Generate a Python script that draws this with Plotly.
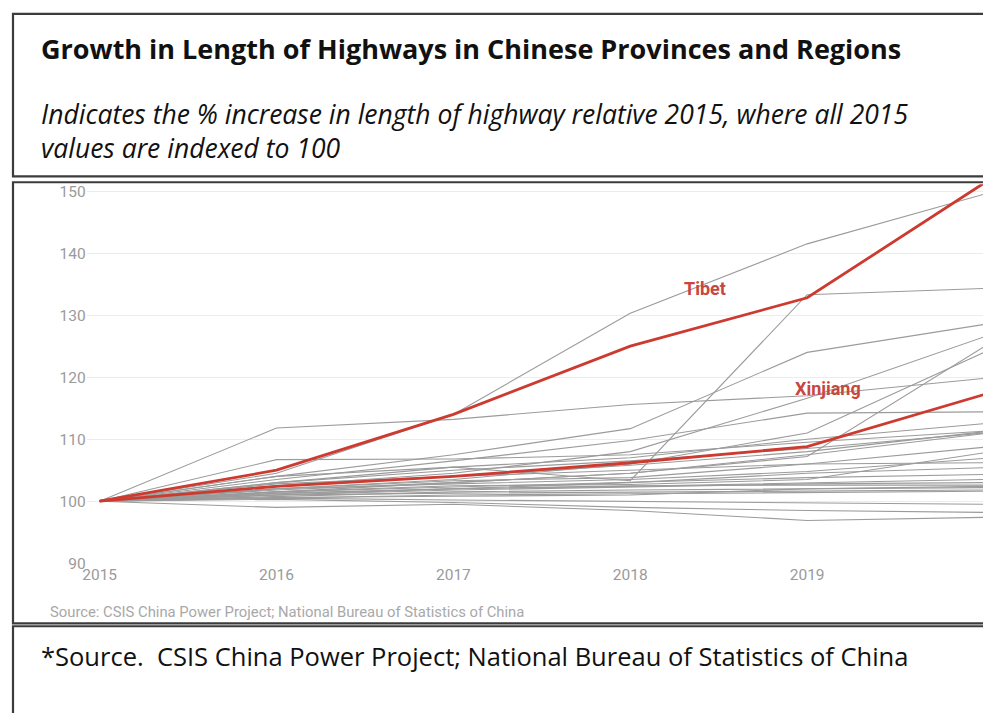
import plotly.graph_objects as go

years = [2015, 2016, 2017, 2018, 2019, 2020]

tibet = [100, 105.0, 114.0, 125.0, 132.8, 151.3]
xinjiang = [100, 102.4, 104.0, 106.2, 108.8, 117.2]

grey_series = [
    [100, 104.5, 114.0, 130.3, 141.5, 149.5],
    [100, 103.0, 105.5, 103.3, 133.3, 134.3],
    [100, 104.0, 107.5, 111.7, 124.0, 128.5],
    [100, 102.5, 104.5, 108.0, 116.6, 126.5],
    [100, 101.5, 103.0, 104.5, 107.2, 124.9],
    [100, 102.0, 103.5, 106.0, 111.0, 124.0],
    [100, 111.8, 113.2, 115.6, 117.0, 119.8],
    [100, 103.5, 106.5, 109.8, 114.2, 114.4],
    [100, 104.0, 105.5, 107.0, 110.0, 112.5],
    [100, 106.7, 106.8, 107.5, 109.5, 111.3],
    [100, 103.0, 105.0, 106.5, 108.5, 111.0],
    [100, 102.5, 104.0, 105.8, 108.0, 111.2],
    [100, 101.8, 103.0, 104.5, 107.5, 110.9],
    [100, 102.0, 103.3, 103.8, 106.0, 108.7],
    [100, 101.5, 102.5, 102.7, 103.5, 107.8],
    [100, 102.0, 102.8, 103.5, 104.8, 106.9],
    [100, 102.8, 104.0, 105.0, 106.0, 106.2],
    [100, 101.2, 102.0, 103.0, 104.5, 105.4],
    [100, 101.5, 102.3, 103.0, 103.8, 104.3],
    [100, 101.0, 102.0, 102.4, 103.0, 103.5],
    [100, 101.0, 101.8, 102.3, 102.8, 103.0],
    [100, 101.3, 102.0, 102.5, 102.6, 102.6],
    [100, 100.6, 100.8, 101.0, 102.0, 102.4],
    [100, 100.8, 101.5, 101.8, 102.0, 102.2],
    [100, 101.0, 101.3, 101.5, 101.7, 101.8],
    [100, 100.5, 101.0, 101.2, 101.4, 101.6],
    [100, 100.5, 100.2, 100.0, 99.8, 99.5],
    [100, 100.3, 99.8, 99.0, 98.5, 98.2],
    [100, 99.0, 99.5, 98.5, 96.9, 97.4],
]

y_ticks = [90, 100, 110, 120, 130, 140, 150]

title = "Growth in Length of Highways in Chinese Provinces and Regions"
subtitle_1 = "Indicates the % increase in length of highway relative 2015, where all 2015"
subtitle_2 = "values are indexed to 100"
chart_source = "Source: CSIS China Power Project; National Bureau of Statistics of China"
footer = "*Source.  CSIS China Power Project; National Bureau of Statistics of China"

# the page puts an 8 px body margin round the figure; size it to reach the window edges
OFF = 8
W, H = 991 - OFF, 713 - OFF

def px_x(p):
    return (p - OFF) / W

def px_y(p):
    return 1 - (p - OFF) / H

# axis geometry (page pixels): 2015 at x=96, 2020 at x=984; 90 at y=570, 100 at y=507
x_left_px, x_right_px = 83, 991
px_per_year = (984 - 96) / 5.0
x_range = [2015 - (96 - x_left_px) / px_per_year, 2020 + (x_right_px - 984) / px_per_year]
y_bottom_px, y_top_px = 570, 185
px_per_unit = (570 - 507) / 10.0
y_range = [90, 90 + (y_bottom_px - y_top_px) / px_per_unit]

fig = go.Figure()

for s in grey_series:
    fig.add_trace(go.Scatter(x=years, y=s, mode="lines",
                             line=dict(color="#9b9b9b", width=1.1),
                             hoverinfo="skip", showlegend=False))

red = "#cc3a30"
fig.add_trace(go.Scatter(x=years, y=xinjiang, mode="lines",
                         line=dict(color=red, width=2.8), showlegend=False, name="Xinjiang"))
fig.add_trace(go.Scatter(x=years, y=tibet, mode="lines",
                         line=dict(color=red, width=2.8), showlegend=False, name="Tibet"))

label_font = dict(family="Roboto", size=18, color="#c9463e")
annotations = [
    dict(x=2018.42, y=134.3, xref="x", yref="y", text="<b>Tibet</b>", showarrow=False,
         font=label_font),
    dict(x=2019.12, y=118.2, xref="x", yref="y", text="<b>Xinjiang</b>", showarrow=False,
         font=label_font),
    dict(x=px_x(35), y=px_y(47), xref="paper", yref="paper", xanchor="left", yanchor="middle",
         text="<b>" + title + "</b>", showarrow=False,
         font=dict(family="Open Sans", size=27, color="#111111")),
    dict(x=px_x(35), y=px_y(131), xref="paper", yref="paper", xanchor="left", yanchor="middle",
         align="left",
         text="<i>" + subtitle_1 + "<br>" + subtitle_2 + "</i>", showarrow=False,
         font=dict(family="Open Sans", size=26.5, color="#111111")),
    dict(x=px_x(44), y=px_y(620), xref="paper", yref="paper", xanchor="left", yanchor="middle",
         text=chart_source, showarrow=False,
         font=dict(family="Roboto", size=14.8, color="#a8a8a8")),
    dict(x=px_x(35), y=px_y(664), xref="paper", yref="paper", xanchor="left", yanchor="middle",
         text=footer, showarrow=False,
         font=dict(family="Open Sans", size=25.5, color="#111111")),
]

border = dict(color="#3c3c3c", width=2.2)
shapes = [
    dict(type="rect", xref="paper", yref="paper", x0=px_x(9), x1=px_x(1010),
         y0=px_y(177), y1=px_y(12), line=border),
    dict(type="rect", xref="paper", yref="paper", x0=px_x(9), x1=px_x(1010),
         y0=px_y(631), y1=px_y(183), line=border),
    dict(type="rect", xref="paper", yref="paper", x0=px_x(9), x1=px_x(1010),
         y0=px_y(730), y1=px_y(634), line=border),
]

fig.update_layout(
    width=W, height=H,
    margin=dict(l=0, r=0, t=0, b=0),
    paper_bgcolor="white", plot_bgcolor="white",
    showlegend=False,
    annotations=annotations,
    shapes=shapes,
    xaxis=dict(domain=[px_x(x_left_px), 1], range=x_range,
               tickvals=years, ticktext=[str(y) for y in years],
               showgrid=False, zeroline=False, showline=False,
               tickfont=dict(family="Roboto", size=15.5, color="#9a9a9a")),
    yaxis=dict(domain=[px_y(y_bottom_px), px_y(y_top_px)], range=y_range,
               tickvals=y_ticks, showgrid=True, gridcolor="#ececec", gridwidth=1,
               zeroline=False, showline=False,
               tickfont=dict(family="Roboto", size=15.5, color="#9a9a9a")),
)

fig.write_html("out.html")
